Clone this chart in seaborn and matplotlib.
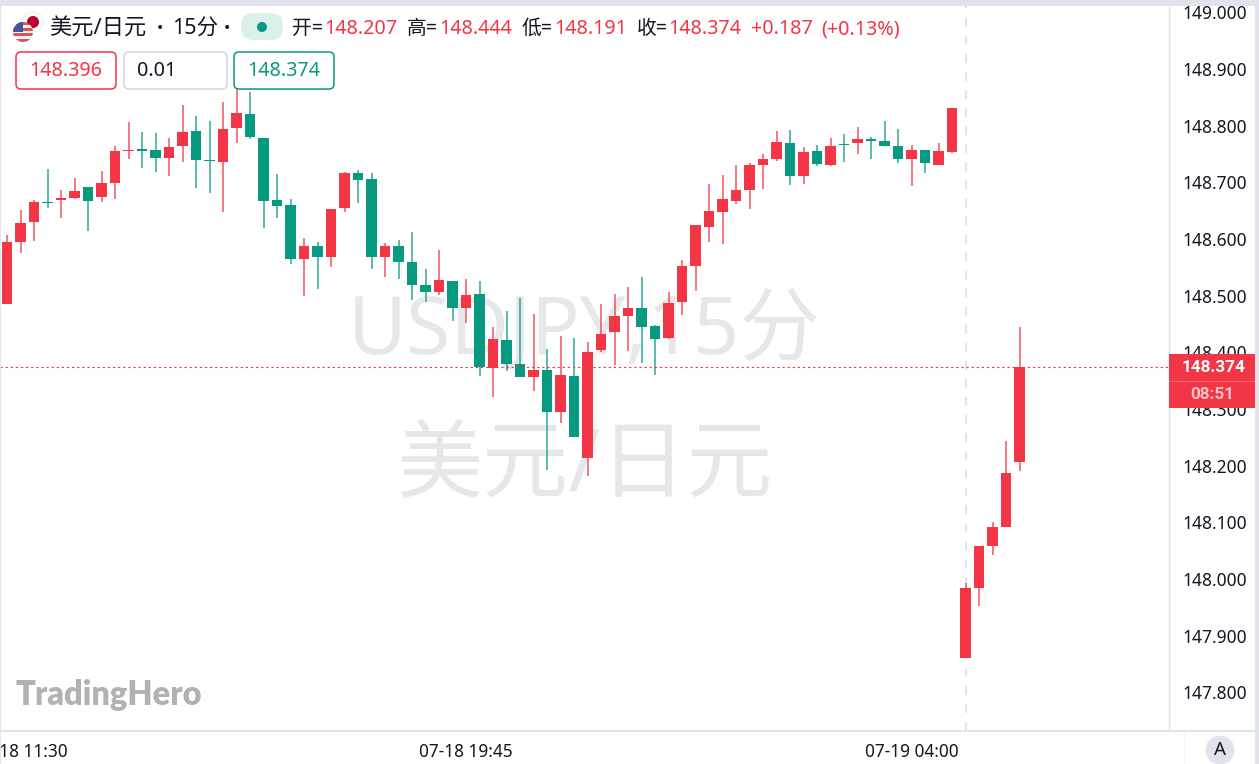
import numpy as np
import pandas as pd
import matplotlib
matplotlib.use("Agg")
import matplotlib.pyplot as plt
from matplotlib.patches import Rectangle, Circle, FancyBboxPatch
from matplotlib.transforms import ScaledTranslation
import seaborn as sns

# ── data ────────────────────────────────────────
opens = [148.485, 148.595, 148.630, 148.666, 148.669, 148.672, 148.692, 148.674, 148.699, 148.755,
         148.758, 148.757, 148.743, 148.764, 148.791, 148.739, 148.736, 148.796, 148.821, 148.778,
         148.669, 148.660, 148.565, 148.588, 148.568, 148.655, 148.717, 148.706, 148.568, 148.588,
         148.560, 148.519, 148.507, 148.526, 148.478, 148.503, 148.372, 148.422, 148.379, 148.357,
         148.369, 148.295, 148.358, 148.214, 148.404, 148.436, 148.464, 148.478, 148.447, 148.425,
         148.489, 148.552, 148.621, 148.648, 148.667, 148.687, 148.731, 148.741, 148.770, 148.711,
         148.755, 148.731, 148.768, 148.770, 148.777, 148.773, 148.764, 148.741, 148.757, 148.731,
         148.754, 147.861, 147.984, 148.058, 148.092, 148.207]
highs = [148.607, 148.651, 148.669, 148.724, 148.687, 148.708, 148.692, 148.720, 148.764, 148.807,
         148.789, 148.787, 148.778, 148.837, 148.817, 148.808, 148.842, 148.867, 148.860, 148.778,
         148.715, 148.671, 148.602, 148.595, 148.653, 148.718, 148.722, 148.717, 148.593, 148.598,
         148.612, 148.547, 148.581, 148.526, 148.530, 148.526, 148.445, 148.473, 148.496, 148.468,
         148.406, 148.429, 148.425, 148.418, 148.485, 148.503, 148.515, 148.533, 148.448, 148.507,
         148.563, 148.625, 148.697, 148.713, 148.731, 148.734, 148.750, 148.791, 148.792, 148.762,
         148.766, 148.778, 148.785, 148.798, 148.780, 148.808, 148.794, 148.766, 148.757, 148.770,
         148.831, 147.993, 148.058, 148.101, 148.244, 148.444]
lows = [148.485, 148.575, 148.597, 148.655, 148.637, 148.671, 148.614, 148.665, 148.671, 148.741,
        148.725, 148.718, 148.711, 148.736, 148.690, 148.681, 148.648, 148.770, 148.777, 148.620,
        148.637, 148.556, 148.499, 148.512, 148.551, 148.648, 148.664, 148.547, 148.533, 148.530,
        148.492, 148.489, 148.501, 148.455, 148.452, 148.358, 148.321, 148.367, 148.357, 148.332,
        148.192, 148.275, 148.251, 148.182, 148.401, 148.378, 148.402, 148.381, 148.360, 148.424,
        148.466, 148.508, 148.595, 148.591, 148.662, 148.653, 148.688, 148.738, 148.695, 148.697,
        148.729, 148.729, 148.736, 148.750, 148.741, 148.764, 148.734, 148.694, 148.717, 148.731,
        148.752, 147.861, 147.952, 148.042, 148.092, 148.191]
closes = [148.595, 148.628, 148.665, 148.664, 148.672, 148.685, 148.667, 148.699, 148.755, 148.757,
          148.756, 148.743, 148.762, 148.789, 148.740, 148.737, 148.794, 148.822, 148.780, 148.667,
          148.658, 148.565, 148.588, 148.568, 148.653, 148.717, 148.704, 148.568, 148.588, 148.560,
          148.519, 148.507, 148.528, 148.478, 148.501, 148.374, 148.424, 148.379, 148.357, 148.369,
          148.295, 148.360, 148.251, 148.401, 148.432, 148.464, 148.478, 148.445, 148.424, 148.487,
          148.552, 148.625, 148.650, 148.671, 148.687, 148.731, 148.741, 148.771, 148.711, 148.754,
          148.732, 148.764, 148.766, 148.777, 148.773, 148.764, 148.741, 148.757, 148.734, 148.755,
          148.831, 147.984, 148.058, 148.092, 148.187, 148.374]

price_ticks = [147.8, 147.9, 148.0, 148.1, 148.2, 148.3, 148.4, 148.5, 148.6, 148.7, 148.8, 148.9, 149.0]
time_ticks = [1, 34, 67]
time_labels = ["07-18 11:30", "07-18 19:45", "07-19 04:00"]
session_bar = 71

RED = "#f23645"
GREEN = "#089981"
LINE = "#e0e3eb"
W, H = 1259, 764

sns.set_theme(style="white")
plt.rcParams["font.family"] = ["Noto Sans", "Noto Sans CJK SC", "DejaVu Sans"]

df = pd.DataFrame({"bar": np.arange(len(opens)), "o": opens, "h": highs, "l": lows, "c": closes})
df["up"] = df.c >= df.o
df["base"] = df[["o", "c"]].min(axis=1)
df["size"] = (df.c - df.o).abs().clip(lower=0.002)

fig = plt.figure(figsize=(W / 100, H / 100), dpi=100, facecolor="white")
# main axes sits at the plot pane in pixels
ax = fig.add_axes([0, (H - 731) / H, 1169 / W, (731 - 6) / H])

# wicks under the bodies
for up, col in [(True, RED), (False, GREEN)]:
    part = df[df.up == up]
    ax.vlines(part.bar, part.l, part.h, color=col, lw=1.1, alpha=0.85, zorder=3)
    sns.barplot(data=part, x="bar", y="size", bottom=part.base.values, native_scale=True,
                errorbar=None, width=0.8, color=col, saturation=1, linewidth=0, ax=ax, zorder=4)

ax.axhline(closes[-1], color=RED, lw=0.8, ls=(0, (2, 2.6)), zorder=5)
ax.axvline(session_bar, color=LINE, lw=1.3, ls=(0, (5, 5)), zorder=1)

ax.set_xlim((0 - 7) / 13.5, (1169 - 7) / 13.5)
ax.set_ylim(148 + (579 - 731) * 0.0017647, 148 + (579 - 6) * 0.0017647)
ax.set_xticks(time_ticks, time_labels)
ax.set_yticks(price_ticks, [f"{p:.3f}" for p in price_ticks], va="center")
ax.yaxis.tick_right()
ax.tick_params(axis="y", length=0, pad=9.4, labelsize=12.5, labelcolor="#131722")
ax.tick_params(axis="x", length=0, pad=8.3, labelsize=12.4, labelcolor="#131722")
# price labels sit 2px lower than matplotlib puts them
nudge = ScaledTranslation(0, -2 / 100, fig.dpi_scale_trans)
for t in ax.yaxis.get_major_ticks():
    t.label2.set_transform(t.label2.get_transform() + nudge)
ax.set_xlabel("")
ax.set_ylabel("")
for side in ["top", "left", "bottom"]:
    ax.spines[side].set_visible(False)
ax.spines["right"].set_color(LINE)
ax.spines["right"].set_linewidth(1)

# big watermark behind the candles
ax.text(0.5, (731 - 332) / 725, "USDJPY,15分", transform=ax.transAxes, ha="center", va="center",
        fontsize=58, color="#e6e7e9", zorder=0)
ax.text(0.5, (731 - 469) / 725, "美元/日元", transform=ax.transAxes, ha="center", va="center",
        fontsize=62, color="#e6e7e9", zorder=0)

# ── overlay in pixel coordinates for header, tag and frame ──
ov = fig.add_axes([0, 0, 1, 1], zorder=10)
ov.set_xlim(0, W)
ov.set_ylim(H, 0)
ov.axis("off")
ov.patch.set_alpha(0)

ov.add_patch(Rectangle((0, 0), W, 6, color=LINE, lw=0))
ov.add_patch(Rectangle((0, 0), 1.5, H, color=LINE, lw=0))
ov.add_patch(Rectangle((1255, 0), 4, H, color=LINE, lw=0))
ov.add_patch(Rectangle((0, 730), 1255, 2, color=LINE, lw=0))
ov.add_patch(Rectangle((1184, 732), 1, 32, color="#f0f3fa", lw=0))

# flags
ov.add_patch(Circle((33, 22), 10, fc="white", ec="#eeeeee", lw=0.8))
ov.add_patch(Circle((33, 22), 6, fc="#bc002d", lw=0))
clip = Circle((23, 32), 10, transform=ov.transData)
for k in range(7):
    s = Rectangle((13, 22 + k * 20 / 7), 20, 20 / 7, color="#d9545f" if k % 2 == 0 else "#f3f3f3", lw=0)
    ov.add_patch(s)
    s.set_clip_path(clip)
canton = Rectangle((13, 22), 10, 10, color="#3f5a9a", lw=0)
ov.add_patch(canton)
canton.set_clip_path(clip)

def label(x, y, s, col="#131722", size=14.2, **kw):
    ov.text(x, y, s, color=col, fontsize=size, va="center", **kw)

label(49, 29, "美元/日元", size=16)
label(157, 29, "•", size=12)
label(172, 29, "15分", size=15.5)
label(224, 29, "•", size=12)
ov.add_patch(FancyBboxPatch((241, 13), 42, 27, boxstyle="round,pad=0,rounding_size=13", lw=0, fc="#d9f0eb"))
ov.add_patch(Circle((262, 27), 5, fc=GREEN, lw=0))

for x, s in [(292, "开="), (407, "高="), (522, "低="), (637, "收=")]:
    label(x, 29, s)
for x, s in [(324, "148.207"), (439, "148.444"), (554, "148.191"), (668, "148.374"),
             (751, "+0.187"), (821, "(+0.13%)")]:
    label(x, 29, s, col=RED)

# order boxes
for x0, x1, ec in [(16, 116, RED), (124, 227, "#d1d4dc"), (234, 334, GREEN)]:
    ov.add_patch(FancyBboxPatch((x0, 52), x1 - x0, 37, boxstyle="round,pad=0,rounding_size=5",
                                fc="white", ec=ec, lw=1.1))
ov.text(66, 71, "148.396", color=RED, fontsize=14.2, ha="center", va="center")
ov.text(137, 71, "0.01", color="#131722", fontsize=14.2, ha="left", va="center")
ov.text(284, 71, "148.374", color=GREEN, fontsize=14.2, ha="center", va="center")

# last price tag on the scale
ov.add_patch(Rectangle((1169, 354), 86, 54, color=RED, lw=0))
ov.add_patch(Rectangle((1169, 381), 86, 1, color="#f6606d", lw=0))
ov.text(1213.5, 367.5, f"{closes[-1]:.3f}", color="white", fontsize=12.3, ha="center", va="center",
        fontweight="bold", family="Roboto")
ov.text(1212, 394.5, "08:51", color="#fbc4c9", fontsize=12.3, ha="center", va="center",
        fontweight="bold", family="Roboto")

ov.add_patch(Circle((1220, 750), 14.5, fc=LINE, lw=0))
ov.text(1220, 750, "A", color="#131722", fontsize=13.5, ha="center", va="center")

ov.text(16, 695, "TradingHero", color="#b2b2b2", fontsize=23.5, fontweight="heavy", family="Lato",
        ha="left", va="center")

fig.savefig("out.png", dpi=100)
